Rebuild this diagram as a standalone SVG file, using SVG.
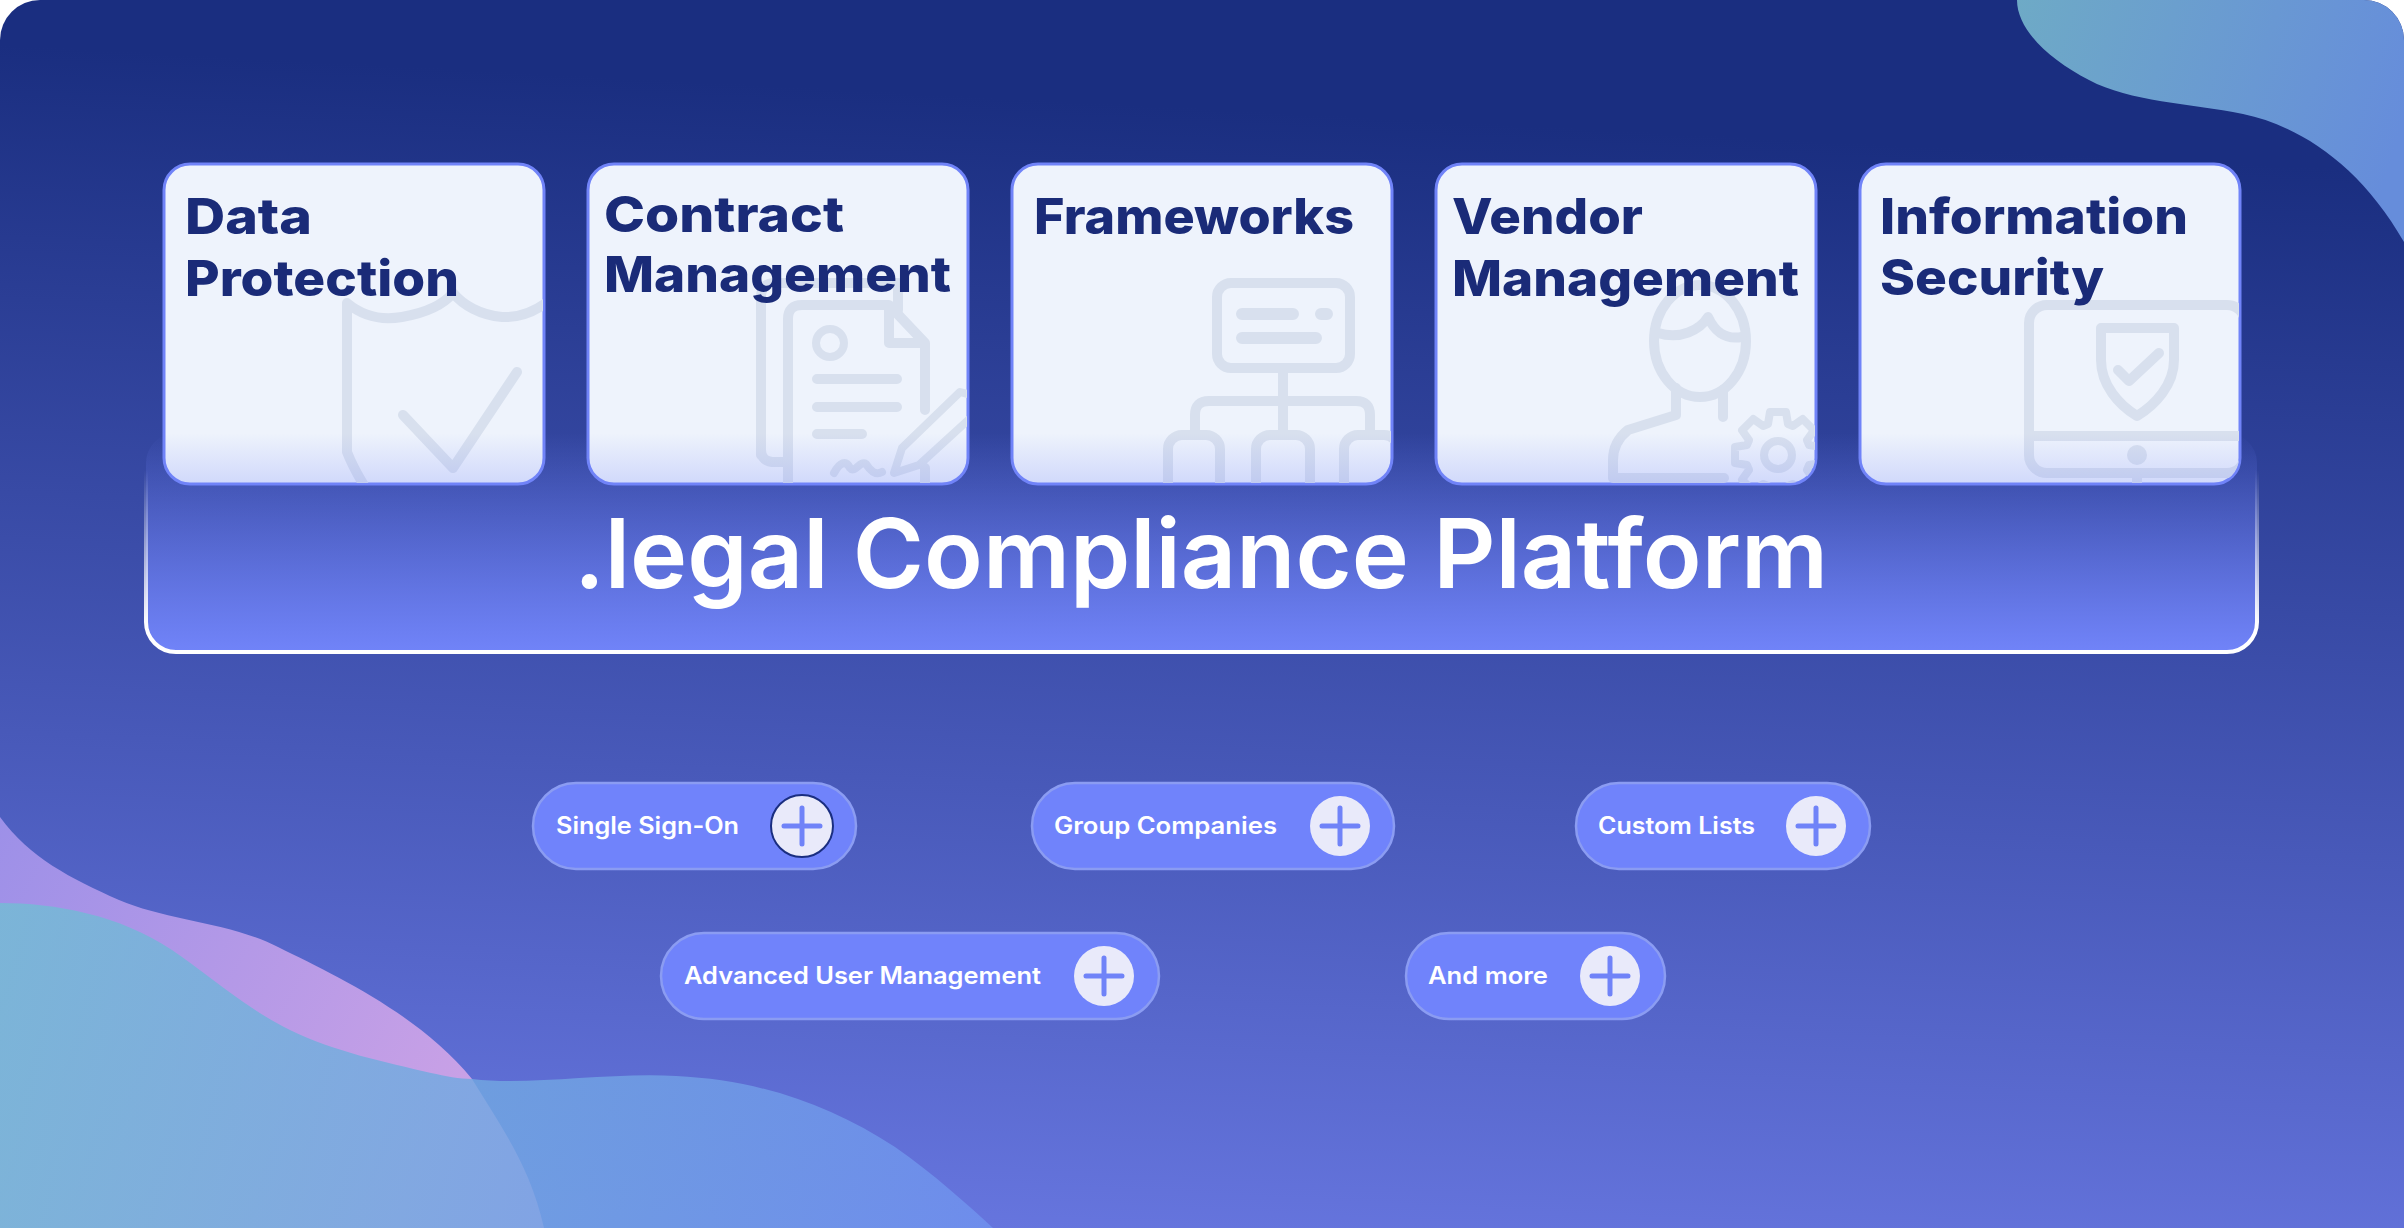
<svg xmlns="http://www.w3.org/2000/svg" width="2404" height="1228" viewBox="0 0 2404 1228">
<style>
.card{fill:#eef3fc;stroke:#7083f8;stroke-width:3}
.ico{fill:none;stroke:#d8e0ee;stroke-width:10;stroke-linecap:round;stroke-linejoin:round}
.ct{font-family:"Inter","Liberation Sans",sans-serif;font-weight:800;font-size:50px;fill:#1a2b78}
.pill{fill:#7083fb;stroke:#8b9cf2;stroke-width:2.5}
.pt{font-family:"Inter","Liberation Sans",sans-serif;font-weight:600;font-size:24px;fill:#fff}
.pc{fill:#e9eafa}
.px{stroke:#7083f8;stroke-width:5;stroke-linecap:round;fill:none}
</style>
<defs>
<linearGradient id="bg" gradientUnits="userSpaceOnUse" x1="1232" y1="110" x2="1172" y2="1240"><stop offset="0" stop-color="#1a2e80"/><stop offset="1" stop-color="#6675de"/></linearGradient>
<linearGradient id="tr" gradientUnits="userSpaceOnUse" x1="2017" y1="0" x2="2404" y2="120"><stop offset="0" stop-color="#6eaac6"/><stop offset="1" stop-color="#668ddb"/></linearGradient>
<linearGradient id="pu" gradientUnits="userSpaceOnUse" x1="0" y1="817" x2="472" y2="1079"><stop offset="0" stop-color="#9d90e8"/><stop offset="1" stop-color="#c9a1e6"/></linearGradient>
<linearGradient id="te" gradientUnits="userSpaceOnUse" x1="0" y1="950" x2="1000" y2="1200"><stop offset="0" stop-color="#73bcd4"/><stop offset="1" stop-color="#7092ef"/></linearGradient>
<linearGradient id="pf" gradientUnits="userSpaceOnUse" x1="0" y1="433" x2="0" y2="650"><stop offset="0" stop-color="#7083f8" stop-opacity="0"/><stop offset="1" stop-color="#7083f8"/></linearGradient>
<linearGradient id="ps" gradientUnits="userSpaceOnUse" x1="0" y1="470" x2="0" y2="625"><stop offset="0" stop-color="#fff" stop-opacity="0"/><stop offset="1" stop-color="#fff"/></linearGradient>
<clipPath id="c1"><rect x="165" y="165" width="378" height="318" rx="25"/></clipPath>
<clipPath id="c2"><rect x="589" y="165" width="378" height="318" rx="25"/></clipPath>
<clipPath id="c3"><rect x="1013" y="165" width="378" height="318" rx="25"/></clipPath>
<clipPath id="c4"><rect x="1437" y="165" width="378" height="318" rx="25"/></clipPath>
<clipPath id="c5"><rect x="1861" y="165" width="378" height="318" rx="25"/></clipPath>
</defs>
<g id="background">
<path d="M40,0H2364A40,40 0 0 1 2404,40V1228H0V40A40,40 0 0 1 40,0Z" fill="url(#bg)"/>
<path d="M2017,0C2017,30 2050,60 2089,80C2130,102 2190,103 2243,114C2300,126 2360,165 2404,242V40A40,40 0 0 0 2364,0Z" fill="url(#tr)"/>
<path d="M0,817C30,858 70,878 119,900C165,920 232,923 278,947C335,975 420,1015 472,1079C500,1125 530,1165 544,1228H0Z" fill="url(#pu)"/>
<path d="M0,903C55,903 120,915 172,950C205,972 245,1008 290,1030C335,1052 385,1062 431,1073C445,1076 460,1079 472,1079C530,1086 610,1072 676,1076C760,1080 830,1105 895,1147C935,1175 968,1205 993,1228H0Z" fill="url(#te)" fill-opacity=".82"/>
</g>
<g id="card-data-protection">
<rect class="card" x="164" y="164" width="380" height="320" rx="26"/>
<g clip-path="url(#c1)"><path class="ico" d="M347,303V452Q354,470 370,495M347,303C365,318 385,320 402,317C425,313 443,305 453,293C463,305 480,315 502,317C520,318 535,312 550,300M403,415L453,468L517,372"/></g>
<text class="ct" x="185" y="234" textLength="127" lengthAdjust="spacingAndGlyphs">Data</text>
<text class="ct" x="185" y="296" textLength="274" lengthAdjust="spacingAndGlyphs">Protection</text>
</g>
<g id="card-contract-management">
<rect class="card" x="588" y="164" width="380" height="320" rx="26"/>
<g clip-path="url(#c2)">
<path class="ico" d="M761,455V297Q761,283 775,283H898V310M761,440V450Q761,462 775,462H788"/>
<path class="ico" d="M788,495V319Q788,305 802,305H889L925,343V410M925,468V495M889,307V343H925"/>
<circle class="ico" cx="830" cy="343" r="14" style="stroke-width:8"/>
<path class="ico" d="M817,379H897M817,407H897M817,434H862"/>
<path class="ico" style="stroke-width:8" d="M834,473C840,462 846,460 850,468C855,474 860,460 866,464C870,470 875,476 882,472"/>
<path class="ico" style="stroke-width:8" d="M902,448L960,392L990,400L919,465L894,473Z"/>
</g>
<text class="ct" x="604" y="232" textLength="240" lengthAdjust="spacingAndGlyphs">Contract</text>
<text class="ct" x="604" y="292" textLength="347" lengthAdjust="spacingAndGlyphs">Management</text>
</g>
<g id="card-frameworks">
<rect class="card" x="1012" y="164" width="380" height="320" rx="26"/>
<g clip-path="url(#c3)">
<rect class="ico" x="1217" y="283" width="133" height="85" rx="14"/>
<path class="ico" style="stroke-width:12" d="M1242,314H1293M1321,314H1327M1242,338H1316"/>
<path class="ico" d="M1283,373V430M1195,430V415Q1195,401 1209,401H1356Q1370,401 1370,415V430"/>
<rect class="ico" x="1168" y="435" width="52" height="70" rx="14"/>
<rect class="ico" x="1256" y="435" width="54" height="70" rx="14"/>
<rect class="ico" x="1344" y="435" width="54" height="70" rx="14"/>
</g>
<text class="ct" x="1034" y="234" textLength="320" lengthAdjust="spacingAndGlyphs">Frameworks</text>
</g>
<g id="card-vendor-management">
<rect class="card" x="1436" y="164" width="380" height="320" rx="26"/>
<g clip-path="url(#c4)">
<ellipse class="ico" cx="1700" cy="341" rx="46" ry="56"/>
<path class="ico" d="M1658,333C1680,340 1700,330 1708,317C1715,332 1725,340 1742,337M1676,388V415L1628,430C1618,438 1613,448 1613,460V478H1724M1723,390V417"/>
<path class="ico" transform="translate(1778,455)" d="M-10,-31L-8,-43H8L10,-31L14.85,-29L24.7,-36L36,-24.7L29,-14.85L31,-10L43,-8V8L31,10L29,14.85L36,24.7L24.7,36L14.85,29L10,31L8,43H-8L-10,31L-14.85,29L-24.7,36L-36,24.7L-29,14.85L-31,10L-43,8V-8L-31,-10L-29,-14.85L-36,-24.7L-24.7,-36L-14.85,-29Z" style="stroke-width:8"/>
<circle class="ico" cx="1778" cy="455" r="14" style="stroke-width:8"/>
</g>
<text class="ct" x="1452" y="234" textLength="191" lengthAdjust="spacingAndGlyphs">Vendor</text>
<text class="ct" x="1452" y="296" textLength="347" lengthAdjust="spacingAndGlyphs">Management</text>
</g>
<g id="card-information-security">
<rect class="card" x="1860" y="164" width="380" height="320" rx="26"/>
<g clip-path="url(#c5)">
<rect class="ico" x="2029" y="305" width="216" height="168" rx="18"/>
<path class="ico" d="M2029,436H2245M2137,478V495"/>
<circle cx="2137" cy="455" r="10" fill="#d8e0ee"/>
<path class="ico" d="M2101,328H2174V360C2174,385 2155,405 2137,416C2119,405 2101,385 2101,360Z"/>
<path class="ico" d="M2118,370L2129,381L2159,353"/>
</g>
<text class="ct" x="1880" y="234" textLength="308" lengthAdjust="spacingAndGlyphs">Information</text>
<text class="ct" x="1880" y="295" textLength="224" lengthAdjust="spacingAndGlyphs">Security</text>
</g>
<g id="platform">
<rect x="146" y="433" width="2111" height="219" rx="30" fill="url(#pf)" stroke="url(#ps)" stroke-width="4"/>
<text x="574" y="588" textLength="1254" lengthAdjust="spacingAndGlyphs" font-family="Inter,'Liberation Sans',sans-serif" font-weight="600" font-size="96" fill="#fff">.legal Compliance Platform</text>
</g>
<g id="pill-sso"><rect class="pill" x="533" y="783" width="323" height="86" rx="43"/><text class="pt" x="556" y="834" textLength="183" lengthAdjust="spacingAndGlyphs">Single Sign-On</text><circle class="pc" cx="802" cy="826" r="31" stroke="#1a2e80" stroke-width="2"/><path class="px" d="M784,826H820M802,808V844"/></g>
<g id="pill-group"><rect class="pill" x="1032" y="783" width="362" height="86" rx="43"/><text class="pt" x="1054" y="834" textLength="223" lengthAdjust="spacingAndGlyphs">Group Companies</text><circle class="pc" cx="1340" cy="826" r="30"/><path class="px" d="M1322,826H1358M1340,808V844"/></g>
<g id="pill-lists"><rect class="pill" x="1576" y="783" width="294" height="86" rx="43"/><text class="pt" x="1598" y="834" textLength="157" lengthAdjust="spacingAndGlyphs">Custom Lists</text><circle class="pc" cx="1816" cy="826" r="30"/><path class="px" d="M1798,826H1834M1816,808V844"/></g>
<g id="pill-users"><rect class="pill" x="661" y="933" width="498" height="86" rx="43"/><text class="pt" x="684" y="984" textLength="357" lengthAdjust="spacingAndGlyphs">Advanced User Management</text><circle class="pc" cx="1104" cy="976" r="30"/><path class="px" d="M1086,976H1122M1104,958V994"/></g>
<g id="pill-more"><rect class="pill" x="1406" y="933" width="259" height="86" rx="43"/><text class="pt" x="1428" y="984" textLength="120" lengthAdjust="spacingAndGlyphs">And more</text><circle class="pc" cx="1610" cy="976" r="30"/><path class="px" d="M1592,976H1628M1610,958V994"/></g>
</svg>
